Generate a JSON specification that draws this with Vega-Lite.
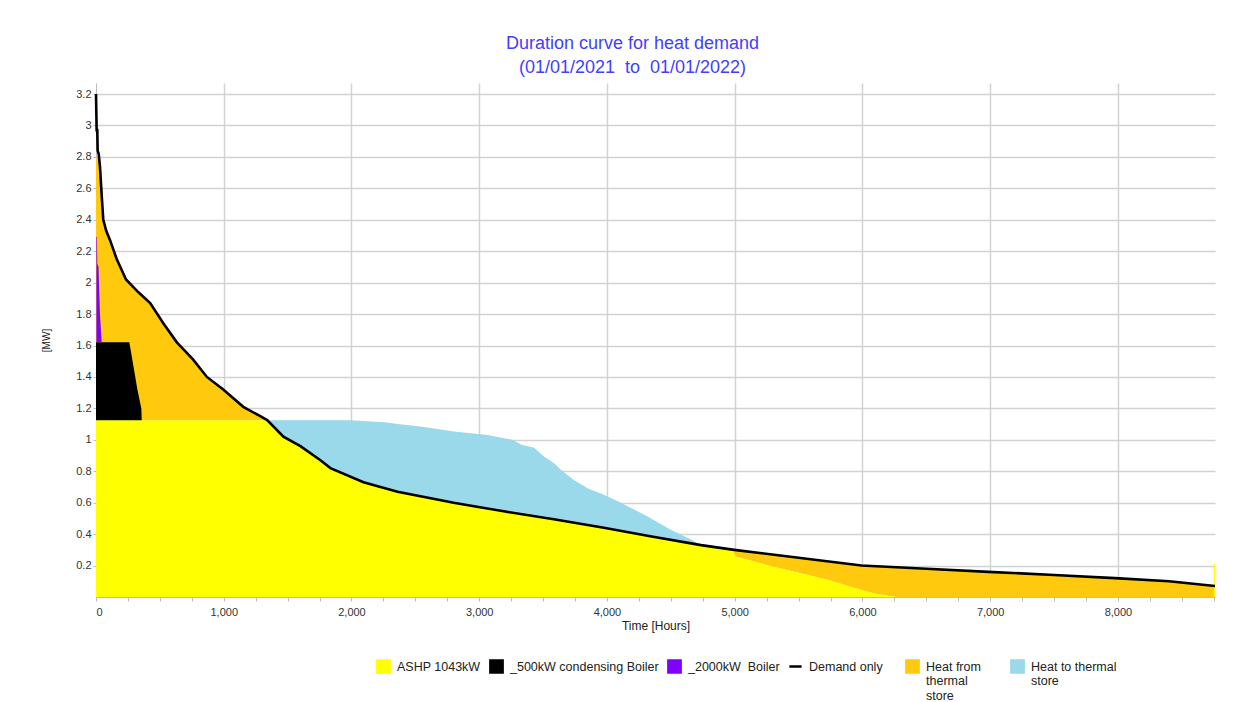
{
  "$schema": "https://vega.github.io/schema/vega-lite/v6.json",
  "width": 1119,
  "height": 514,
  "autosize": {"type": "none"},
  "padding": {"left": 96, "top": 83, "right": 35, "bottom": 105},
  "background": "white",
  "config": {
    "view": {"stroke": null},
    "font": "Liberation Sans",
    "axis": {"labelFont": "Liberation Sans", "titleFont": "Liberation Sans", "labelColor": "#333", "titleColor": "#222", "titleFontWeight": "normal", "domainColor": "#bdbdbd", "tickColor": "#bdbdbd", "gridColor": "#d2d2d2", "gridWidth": 1.5}
  },
  "title": {
    "text": ["Duration curve for heat demand", "(01/01/2021 \u00a0to \u00a001/01/2022)"],
    "font": "Liberation Sans",
    "fontSize": 18,
    "fontWeight": "normal",
    "color": "#3f3fff",
    "lineHeight": 24,
    "offset": 6,
    "dx": -23,
    "anchor": "middle",
    "frame": "group"
  },
  "datasets": {
    "bands": [
      {"s": "Heat from thermal store", "part": "a", "t": 0, "mw": 2.8, "mw0": 1.125},
      {"s": "Heat from thermal store", "part": "a", "t": 21, "mw": 2.8, "mw0": 1.125},
      {"s": "Heat from thermal store", "part": "a", "t": 31, "mw": 2.74, "mw0": 1.125},
      {"s": "Heat from thermal store", "part": "a", "t": 45, "mw": 2.55, "mw0": 1.125},
      {"s": "Heat from thermal store", "part": "a", "t": 57, "mw": 2.4, "mw0": 1.125},
      {"s": "Heat from thermal store", "part": "a", "t": 80, "mw": 2.33, "mw0": 1.125},
      {"s": "Heat from thermal store", "part": "a", "t": 110, "mw": 2.27, "mw0": 1.125},
      {"s": "Heat from thermal store", "part": "a", "t": 162, "mw": 2.15, "mw0": 1.125},
      {"s": "Heat from thermal store", "part": "a", "t": 235, "mw": 2.02, "mw0": 1.125},
      {"s": "Heat from thermal store", "part": "a", "t": 330, "mw": 1.94, "mw0": 1.125},
      {"s": "Heat from thermal store", "part": "a", "t": 424, "mw": 1.87, "mw0": 1.125},
      {"s": "Heat from thermal store", "part": "a", "t": 528, "mw": 1.74, "mw0": 1.125},
      {"s": "Heat from thermal store", "part": "a", "t": 633, "mw": 1.62, "mw0": 1.125},
      {"s": "Heat from thermal store", "part": "a", "t": 761, "mw": 1.51, "mw0": 1.125},
      {"s": "Heat from thermal store", "part": "a", "t": 868, "mw": 1.4, "mw0": 1.125},
      {"s": "Heat from thermal store", "part": "a", "t": 996, "mw": 1.32, "mw0": 1.125},
      {"s": "Heat from thermal store", "part": "a", "t": 1153, "mw": 1.21, "mw0": 1.125},
      {"s": "Heat from thermal store", "part": "a", "t": 1286, "mw": 1.15, "mw0": 1.125},
      {"s": "Heat from thermal store", "part": "a", "t": 1340, "mw": 1.125, "mw0": 1.125},
      {"s": "Heat from thermal store", "part": "b", "t": 4990, "mw": 0.3, "mw0": 0.3},
      {"s": "Heat from thermal store", "part": "b", "t": 5000, "mw": 0.3, "mw0": 0.26},
      {"s": "Heat from thermal store", "part": "b", "t": 5263, "mw": 0.27, "mw0": 0.2},
      {"s": "Heat from thermal store", "part": "b", "t": 5500, "mw": 0.25, "mw0": 0.155},
      {"s": "Heat from thermal store", "part": "b", "t": 5733, "mw": 0.225, "mw0": 0.108},
      {"s": "Heat from thermal store", "part": "b", "t": 5992, "mw": 0.2, "mw0": 0.045},
      {"s": "Heat from thermal store", "part": "b", "t": 6100, "mw": 0.195, "mw0": 0.02},
      {"s": "Heat from thermal store", "part": "b", "t": 6260, "mw": 0.19, "mw0": 0},
      {"s": "Heat from thermal store", "part": "b", "t": 6500, "mw": 0.18, "mw0": 0},
      {"s": "Heat from thermal store", "part": "b", "t": 6988, "mw": 0.16, "mw0": 0},
      {"s": "Heat from thermal store", "part": "b", "t": 7500, "mw": 0.14, "mw0": 0},
      {"s": "Heat from thermal store", "part": "b", "t": 7976, "mw": 0.12, "mw0": 0},
      {"s": "Heat from thermal store", "part": "b", "t": 8400, "mw": 0.1, "mw0": 0},
      {"s": "Heat from thermal store", "part": "b", "t": 8760, "mw": 0.07, "mw0": 0},

      {"s": "Heat to thermal store", "part": "a", "t": 1340, "mw": 1.125, "mw0": 1.125},
      {"s": "Heat to thermal store", "part": "a", "t": 1467, "mw": 1.125, "mw0": 1.02},
      {"s": "Heat to thermal store", "part": "a", "t": 1600, "mw": 1.125, "mw0": 0.96},
      {"s": "Heat to thermal store", "part": "a", "t": 1757, "mw": 1.125, "mw0": 0.87},
      {"s": "Heat to thermal store", "part": "a", "t": 1835, "mw": 1.125, "mw0": 0.82},
      {"s": "Heat to thermal store", "part": "a", "t": 1992, "mw": 1.125, "mw0": 0.76},
      {"s": "Heat to thermal store", "part": "a", "t": 2094, "mw": 1.12, "mw0": 0.73},
      {"s": "Heat to thermal store", "part": "a", "t": 2282, "mw": 1.11, "mw0": 0.69},
      {"s": "Heat to thermal store", "part": "a", "t": 2361, "mw": 1.1, "mw0": 0.67},
      {"s": "Heat to thermal store", "part": "a", "t": 2541, "mw": 1.085, "mw0": 0.64},
      {"s": "Heat to thermal store", "part": "a", "t": 2800, "mw": 1.053, "mw0": 0.6},
      {"s": "Heat to thermal store", "part": "a", "t": 3067, "mw": 1.03, "mw0": 0.565},
      {"s": "Heat to thermal store", "part": "a", "t": 3192, "mw": 1.01, "mw0": 0.545},
      {"s": "Heat to thermal store", "part": "a", "t": 3260, "mw": 1.0, "mw0": 0.53},
      {"s": "Heat to thermal store", "part": "a", "t": 3330, "mw": 0.968, "mw0": 0.52},
      {"s": "Heat to thermal store", "part": "a", "t": 3430, "mw": 0.95, "mw0": 0.51},
      {"s": "Heat to thermal store", "part": "a", "t": 3506, "mw": 0.894, "mw0": 0.5},
      {"s": "Heat to thermal store", "part": "a", "t": 3584, "mw": 0.853, "mw0": 0.495},
      {"s": "Heat to thermal store", "part": "a", "t": 3639, "mw": 0.81, "mw0": 0.49},
      {"s": "Heat to thermal store", "part": "a", "t": 3741, "mw": 0.745, "mw0": 0.475},
      {"s": "Heat to thermal store", "part": "a", "t": 3851, "mw": 0.69, "mw0": 0.46},
      {"s": "Heat to thermal store", "part": "a", "t": 3976, "mw": 0.65, "mw0": 0.44},
      {"s": "Heat to thermal store", "part": "a", "t": 4110, "mw": 0.6, "mw0": 0.425},
      {"s": "Heat to thermal store", "part": "a", "t": 4322, "mw": 0.51, "mw0": 0.39},
      {"s": "Heat to thermal store", "part": "a", "t": 4502, "mw": 0.427, "mw0": 0.36},
      {"s": "Heat to thermal store", "part": "a", "t": 4635, "mw": 0.375, "mw0": 0.345},
      {"s": "Heat to thermal store", "part": "a", "t": 4737, "mw": 0.33, "mw0": 0.33},

      {"s": "ASHP 1043kW", "part": "a", "t": 0, "mw": 1.125, "mw0": 0},
      {"s": "ASHP 1043kW", "part": "a", "t": 1340, "mw": 1.125, "mw0": 0},
      {"s": "ASHP 1043kW", "part": "a", "t": 1467, "mw": 1.02, "mw0": 0},
      {"s": "ASHP 1043kW", "part": "a", "t": 1600, "mw": 0.96, "mw0": 0},
      {"s": "ASHP 1043kW", "part": "a", "t": 1757, "mw": 0.87, "mw0": 0},
      {"s": "ASHP 1043kW", "part": "a", "t": 1835, "mw": 0.82, "mw0": 0},
      {"s": "ASHP 1043kW", "part": "a", "t": 2094, "mw": 0.73, "mw0": 0},
      {"s": "ASHP 1043kW", "part": "a", "t": 2361, "mw": 0.67, "mw0": 0},
      {"s": "ASHP 1043kW", "part": "a", "t": 2800, "mw": 0.6, "mw0": 0},
      {"s": "ASHP 1043kW", "part": "a", "t": 3192, "mw": 0.545, "mw0": 0},
      {"s": "ASHP 1043kW", "part": "a", "t": 3584, "mw": 0.495, "mw0": 0},
      {"s": "ASHP 1043kW", "part": "a", "t": 3976, "mw": 0.44, "mw0": 0},
      {"s": "ASHP 1043kW", "part": "a", "t": 4350, "mw": 0.385, "mw0": 0},
      {"s": "ASHP 1043kW", "part": "a", "t": 4737, "mw": 0.33, "mw0": 0},
      {"s": "ASHP 1043kW", "part": "a", "t": 4990, "mw": 0.3, "mw0": 0},
      {"s": "ASHP 1043kW", "part": "a", "t": 5000, "mw": 0.26, "mw0": 0},
      {"s": "ASHP 1043kW", "part": "a", "t": 5263, "mw": 0.2, "mw0": 0},
      {"s": "ASHP 1043kW", "part": "a", "t": 5500, "mw": 0.155, "mw0": 0},
      {"s": "ASHP 1043kW", "part": "a", "t": 5733, "mw": 0.108, "mw0": 0},
      {"s": "ASHP 1043kW", "part": "a", "t": 5992, "mw": 0.045, "mw0": 0},
      {"s": "ASHP 1043kW", "part": "a", "t": 6100, "mw": 0.02, "mw0": 0},
      {"s": "ASHP 1043kW", "part": "a", "t": 6260, "mw": 0, "mw0": 0},
      {"s": "ASHP 1043kW", "part": "b", "t": 8750, "mw": 0.21, "mw0": 0},
      {"s": "ASHP 1043kW", "part": "b", "t": 8760, "mw": 0.21, "mw0": 0},

      {"s": "_500kW condensing Boiler", "part": "a", "t": 0, "mw": 1.62, "mw0": 1.125},
      {"s": "_500kW condensing Boiler", "part": "a", "t": 261, "mw": 1.62, "mw0": 1.125},
      {"s": "_500kW condensing Boiler", "part": "a", "t": 293, "mw": 1.47, "mw0": 1.125},
      {"s": "_500kW condensing Boiler", "part": "a", "t": 324, "mw": 1.32, "mw0": 1.125},
      {"s": "_500kW condensing Boiler", "part": "a", "t": 355, "mw": 1.2, "mw0": 1.125},
      {"s": "_500kW condensing Boiler", "part": "a", "t": 358, "mw": 1.125, "mw0": 1.125},

      {"s": "_2000kW  Boiler", "part": "a", "t": 3, "mw": 2.29, "mw0": 1.62},
      {"s": "_2000kW  Boiler", "part": "a", "t": 8, "mw": 2.29, "mw0": 1.62},
      {"s": "_2000kW  Boiler", "part": "a", "t": 10, "mw": 2.12, "mw0": 1.62},
      {"s": "_2000kW  Boiler", "part": "a", "t": 20, "mw": 2.1, "mw0": 1.62},
      {"s": "_2000kW  Boiler", "part": "a", "t": 25, "mw": 1.95, "mw0": 1.62},
      {"s": "_2000kW  Boiler", "part": "a", "t": 31, "mw": 1.8, "mw0": 1.62},
      {"s": "_2000kW  Boiler", "part": "a", "t": 44, "mw": 1.63, "mw0": 1.62}
    ],
    "demand": [
      {"t": 0, "mw": 3.2}, {"t": 5, "mw": 2.97}, {"t": 10, "mw": 2.97}, {"t": 13, "mw": 2.84},
      {"t": 21, "mw": 2.82}, {"t": 31, "mw": 2.74}, {"t": 45, "mw": 2.55}, {"t": 57, "mw": 2.4},
      {"t": 80, "mw": 2.33}, {"t": 110, "mw": 2.27}, {"t": 162, "mw": 2.15}, {"t": 235, "mw": 2.02},
      {"t": 330, "mw": 1.94}, {"t": 424, "mw": 1.87}, {"t": 528, "mw": 1.74}, {"t": 633, "mw": 1.62},
      {"t": 761, "mw": 1.51}, {"t": 868, "mw": 1.4}, {"t": 996, "mw": 1.32}, {"t": 1153, "mw": 1.21},
      {"t": 1286, "mw": 1.15}, {"t": 1340, "mw": 1.125}, {"t": 1467, "mw": 1.02}, {"t": 1600, "mw": 0.96},
      {"t": 1757, "mw": 0.87}, {"t": 1835, "mw": 0.82}, {"t": 2094, "mw": 0.73}, {"t": 2361, "mw": 0.67},
      {"t": 2800, "mw": 0.6}, {"t": 3192, "mw": 0.545}, {"t": 3584, "mw": 0.495}, {"t": 3976, "mw": 0.44},
      {"t": 4350, "mw": 0.385}, {"t": 4737, "mw": 0.33}, {"t": 4996, "mw": 0.3}, {"t": 5500, "mw": 0.25},
      {"t": 5992, "mw": 0.2}, {"t": 6500, "mw": 0.18}, {"t": 6988, "mw": 0.16}, {"t": 7500, "mw": 0.14},
      {"t": 7976, "mw": 0.12}, {"t": 8400, "mw": 0.1}, {"t": 8760, "mw": 0.07}
    ]
  },
  "encoding": {
    "x": {
      "field": "t", "type": "quantitative",
      "scale": {"domain": [0, 8760], "nice": false, "zero": false},
      "axis": {
        "title": "Time [Hours]",
        "titleFontSize": 12,
        "titlePadding": 3,
        "labelFontSize": 11,
        "labelPadding": 5,
        "tickSize": 4,
        "values": [0,250,500,750,1000,1250,1500,1750,2000,2250,2500,2750,3000,3250,3500,3750,4000,4250,4500,4750,5000,5250,5500,5750,6000,6250,6500,6750,7000,7250,7500,7750,8000,8250,8500,8750],
        "labelExpr": "datum.value % 1000 === 0 ? format(datum.value, ',') : ''",
        "gridOpacity": {"condition": {"test": "datum.value % 1000 === 0 && datum.value > 0", "value": 1}, "value": 0}
      }
    },
    "y": {
      "field": "mw", "type": "quantitative",
      "scale": {"domain": [0, 3.27], "nice": false},
      "axis": {
        "title": "[MW]",
        "titleFontSize": 10,
        "titlePadding": 24,
        "labelFontSize": 11,
        "labelPadding": 2,
        "tickSize": 3,
        "values": [0.2, 0.4, 0.6, 0.8, 1, 1.2, 1.4, 1.6, 1.8, 2, 2.2, 2.4, 2.6, 2.8, 3, 3.2],
        "format": "~g"
      }
    },
    "color": {
      "field": "s", "type": "nominal",
      "scale": {
        "domain": ["ASHP 1043kW", "_500kW condensing Boiler", "_2000kW  Boiler", "Demand only", "Heat from thermal store", "Heat to thermal store"],
        "range": ["#ffff00", "#000000", "#8000ff", "#000000", "#ffc90e", "#99d9ea"]
      },
      "legend": {
        "title": null,
        "orient": "none",
        "legendX": 280,
        "legendY": 576,
        "direction": "horizontal",
        "columns": 6,
        "columnPadding": 4,
        "labelFont": "Liberation Sans",
        "labelFontSize": 12.5,
        "labelColor": "#222",
        "labelOffset": 6,
        "labelLimit": 300,
        "symbolSize": 150,
        "labelExpr": "datum.label === 'Heat from thermal store' ? ['Heat from\u00a0\u00a0\u00a0\u00a0\u00a0\u00a0\u200b', 'thermal', 'store'] : datum.label === 'Heat to thermal store' ? ['Heat to thermal', 'store', ''] : datum.label === '_2000kW  Boiler' ? ['_2000kW\u00a0 Boiler', '', ''] : datum.label === 'Demand only' ? ['Demand only\u00a0\u00a0\u00a0\u00a0\u200b', '', ''] : [datum.label, '', '']",
        "encode": {
          "labels": {"update": {"lineHeight": {"value": 14.5}}},
          "symbols": {
            "update": {
              "shape": {"signal": "datum.value === 'Demand only' ? 'stroke' : 'square'"},
              "stroke": {"signal": "datum.value === 'Demand only' ? '#000000' : 'transparent'"},
              "strokeWidth": {"value": 2.5}
            }
          }
        }
      }
    }
  },
  "layer": [
    {
      "data": {"name": "bands"},
      "transform": [{"filter": "datum.s === 'Heat from thermal store'"}],
      "mark": {"type": "area", "opacity": 1},
      "encoding": {"y2": {"field": "mw0"}, "detail": {"field": "part"}}
    },
    {
      "data": {"name": "bands"},
      "transform": [{"filter": "datum.s === 'Heat to thermal store'"}],
      "mark": {"type": "area", "opacity": 1},
      "encoding": {"y2": {"field": "mw0"}, "detail": {"field": "part"}}
    },
    {
      "data": {"name": "bands"},
      "transform": [{"filter": "datum.s === 'ASHP 1043kW'"}],
      "mark": {"type": "area", "opacity": 1},
      "encoding": {"y2": {"field": "mw0"}, "detail": {"field": "part"}}
    },
    {
      "data": {"name": "bands"},
      "transform": [{"filter": "datum.s === '_500kW condensing Boiler'"}],
      "mark": {"type": "area", "opacity": 1},
      "encoding": {"y2": {"field": "mw0"}, "detail": {"field": "part"}}
    },
    {
      "data": {"name": "bands"},
      "transform": [{"filter": "datum.s === '_2000kW  Boiler'"}],
      "mark": {"type": "area", "opacity": 1},
      "encoding": {"y2": {"field": "mw0"}, "detail": {"field": "part"}}
    },
    {
      "data": {"name": "demand"},
      "mark": {"type": "line", "strokeWidth": 2.6},
      "encoding": {"color": {"datum": "Demand only"}}
    }
  ]
}
